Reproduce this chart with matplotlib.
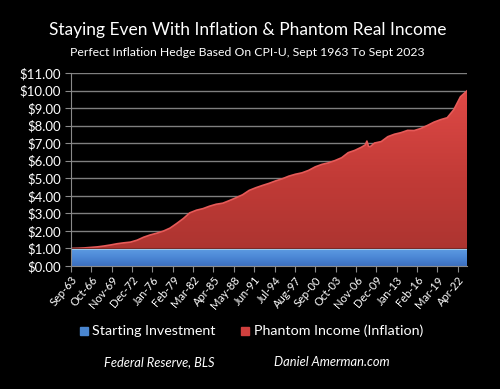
import numpy as np
import matplotlib.pyplot as plt
from matplotlib.colors import LinearSegmentedColormap
from matplotlib.path import Path

# months after Sep 1963, and what $1 must become to keep even with CPI-U
months = [0, 12, 24, 36, 48, 60, 72, 84, 96, 108, 120, 132, 144, 156, 168,
          180, 192, 204, 216, 228, 240, 252, 264, 276, 288, 300, 312, 324,
          336, 348, 360, 372, 384, 396, 408, 420, 432, 438, 444, 450, 456,
          468, 480, 492, 504, 516, 528, 535, 538, 541, 544, 552, 564, 576,
          588, 600, 612, 624, 636, 648, 660, 672, 684, 696, 708, 720]
total = [1.00, 1.01, 1.03, 1.06, 1.09, 1.14, 1.20, 1.27, 1.32, 1.36, 1.47,
         1.64, 1.77, 1.87, 1.99, 2.16, 2.42, 2.70, 3.03, 3.18, 3.27, 3.41,
         3.52, 3.58, 3.73, 3.89, 4.06, 4.31, 4.46, 4.59, 4.71, 4.85, 4.97,
         5.12, 5.23, 5.31, 5.45, 5.55, 5.65, 5.72, 5.79, 5.88, 6.01, 6.17,
         6.46, 6.59, 6.77, 6.90, 7.12, 6.82, 6.80, 7.01, 7.09, 7.37, 7.51,
         7.60, 7.73, 7.72, 7.84, 8.01, 8.20, 8.34, 8.45, 8.91, 9.64, 9.98]
starting = 1.0

tick_labels = ['Sep-63', 'Oct-66', 'Nov-69', 'Dec-72', 'Jan-76', 'Feb-79',
               'Mar-82', 'Apr-85', 'May-88', 'Jun-91', 'Jul-94', 'Aug-97',
               'Sep-00', 'Oct-03', 'Nov-06', 'Dec-09', 'Jan-13', 'Feb-16',
               'Mar-19', 'Apr-22']
tick_step = 37

plt.rcParams['font.family'] = ['Lato', 'DejaVu Sans']

x = np.array(months)
y = np.array(total)
base = np.full_like(y, starting)

fig = plt.figure(figsize=(5, 3.89), dpi=100, facecolor='black')
ax = fig.add_axes([71 / 500, 1 - 266 / 389, 396 / 500, 193 / 389])
ax.set_facecolor('black')
ax.set_xlim(0, 720)
ax.set_ylim(0, 11)

for v in range(0, 12):
    ax.axhline(v, color='#7f7f7f', lw=1, zorder=1)

# red area with vertical gradient
red_cmap = LinearSegmentedColormap.from_list('r', ['#a8332f', '#c23b37', '#e04a47'])
grad = np.linspace(0, 1, 256).reshape(-1, 1)
im = ax.imshow(grad, extent=[0, 720, 0, 10.2], origin='lower', aspect='auto',
               cmap=red_cmap, zorder=2)
verts = np.vstack([np.column_stack([x, y]), np.column_stack([x[::-1], base[::-1]])])
im.set_clip_path(Path(verts), transform=ax.transData)
ax.plot(x, y, color='#e65a58', lw=1.2, zorder=3)

# blue band with gradient
blue_cmap = LinearSegmentedColormap.from_list('b', ['#3c6fbf', '#4c88d6', '#5f9de3'])
ax.imshow(grad, extent=[0, 720, 0, starting], origin='lower', aspect='auto',
          cmap=blue_cmap, zorder=2)
ax.fill_between(x, starting - 0.08, base, color='#9fd3f5', lw=0, zorder=3)
ax.axhline(starting + 0.02, color='#7a2a28', lw=0.8, zorder=3)

for s in ['top', 'right']:
    ax.spines[s].set_visible(False)
ax.spines['left'].set_color('#8a8a8a')
ax.spines['bottom'].set_color('#8a8a8a')
ax.spines['left'].set_zorder(4)

ax.set_yticks(range(0, 12))
ax.set_yticklabels(['$%d.00' % v for v in range(0, 12)])
ax.set_xticks([i * tick_step for i in range(len(tick_labels))])
ax.set_xticklabels(tick_labels, rotation=50, ha='right', rotation_mode='anchor')
ax.tick_params(axis='y', colors='white', labelsize=9.5, length=4, color='#8a8a8a', pad=3)
ax.tick_params(axis='x', colors='white', labelsize=8, length=4, color='#8a8a8a', pad=2)

fig.text(0.495, 1 - 30 / 389, 'Staying Even With Inflation & Phantom Real Income',
         color='white', fontsize=12.5, ha='center', va='center')
fig.text(0.494, 1 - 52 / 389, 'Perfect Inflation Hedge Based On CPI-U, Sept 1963 To Sept 2023',
         color='white', fontsize=8.8, ha='center', va='center')

# legend
fig.patches.append(plt.Rectangle((80 / 500, 1 - 335 / 389), 8 / 500, 8 / 389,
                                 color='#4a86d0', transform=fig.transFigure))
fig.text(92 / 500, 1 - 331 / 389, 'Starting Investment', color='white',
         fontsize=10.3, va='center')
fig.patches.append(plt.Rectangle((241 / 500, 1 - 335 / 389), 8 / 500, 8 / 389,
                                 color='#d0403e', transform=fig.transFigure))
fig.text(254 / 500, 1 - 331 / 389, 'Phantom Income (Inflation)', color='white',
         fontsize=10.3, va='center')

fig.text(159 / 500, 1 - 362 / 389, 'Federal Reserve, BLS', color='white',
         fontsize=9.3, style='italic', ha='center', va='center')
fig.text(332 / 500, 1 - 362 / 389, 'Daniel Amerman.com', color='white',
         fontsize=9.3, style='italic', ha='center', va='center')

fig.savefig('out.png', dpi=100, facecolor='black')
